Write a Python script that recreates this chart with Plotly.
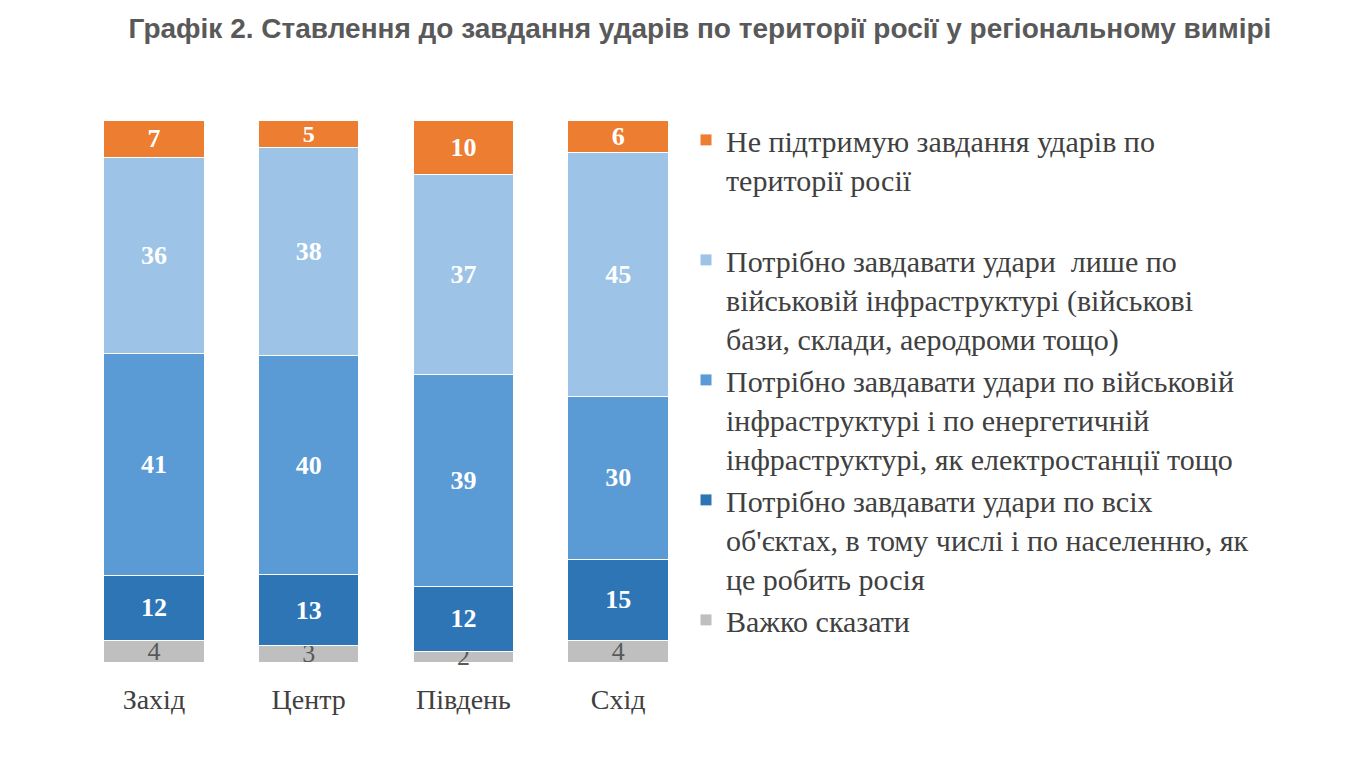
import plotly.graph_objects as go

regions = ['Захід', 'Центр', 'Південь', 'Схід']

# values per answer, bottom of the stack first
hard_to_say = [4, 3, 2, 4]
all_objects = [12, 13, 12, 15]
military_energy = [41, 40, 39, 30]
military_only = [36, 38, 37, 45]
not_support = [7, 5, 10, 6]

names = [
    'Важко сказати',
    'Потрібно завдавати удари по всіх<br>об\'єктах, в тому числі і по населенню, як<br>це робить росія',
    'Потрібно завдавати удари по військовій<br>інфраструктурі і по енергетичній<br>інфраструктурі, як електростанції тощо',
    'Потрібно завдавати удари  лише по<br>військовій інфраструктурі (військові<br>бази, склади, аеродроми тощо)',
    'Не підтримую завдання ударів по<br>території росії<br> ',
]
series = [hard_to_say, all_objects, military_energy, military_only, not_support]
colors = ['#BFBFBF', '#2E75B6', '#5B9BD5', '#9DC3E6', '#ED7D31']
text_colors = ['#595959', 'white', 'white', 'white', 'white']

serif = 'Liberation Serif, Times New Roman, serif'

fig = go.Figure()
for i in range(len(series)):
    # the thin orange cap in "Центр" needs a smaller label to be shown
    sizes = [26, 24, 26, 26] if i == len(series) - 1 else 26
    fig.add_trace(go.Bar(
        x=regions, y=series[i], name=names[i],
        marker=dict(color=colors[i], line=dict(color='white', width=1)),
        text=series[i], textposition='inside', insidetextanchor='middle',
        textangle=0, constraintext='none',
        textfont=dict(family=serif, size=sizes,
                      color=text_colors[i],
                      weight='normal' if i == 0 else 'bold'),
        hoverinfo='x+y+name',
    ))

# the page body adds an 8px offset, so positions below are shifted by it;
# the y range dips below 0 so the grey labels are not clipped
fig.update_layout(
    barmode='stack', barnorm='percent', bargap=0.35,
    width=1348, height=770,
    margin=dict(l=0, r=0, t=112, b=105),
    plot_bgcolor='white', paper_bgcolor='white',
    title=dict(text='Графік 2. Ставлення до завдання ударів по території росії у регіональному вимірі',
               x=692 / 1348, xanchor='center', y=1 - 20 / 770, yanchor='middle',
               font=dict(family='Liberation Sans, Arial, sans-serif', size=28,
                         color='#595959', weight='bold')),
    legend=dict(x=678 / 1348, xanchor='left', y=1.011, yanchor='top',
                traceorder='reversed', valign='top', maxheight=1,
                font=dict(family=serif, size=30, color='#404040')),
    xaxis=dict(domain=[68.5 / 1348, 687.5 / 1348], showline=False, ticks='',
               ticklabelstandoff=7,
               tickfont=dict(family=serif, size=28, color='#404040')),
    yaxis=dict(range=[-2, 100], visible=False, showgrid=False, zeroline=False),
)

fig.write_html("out.html")
